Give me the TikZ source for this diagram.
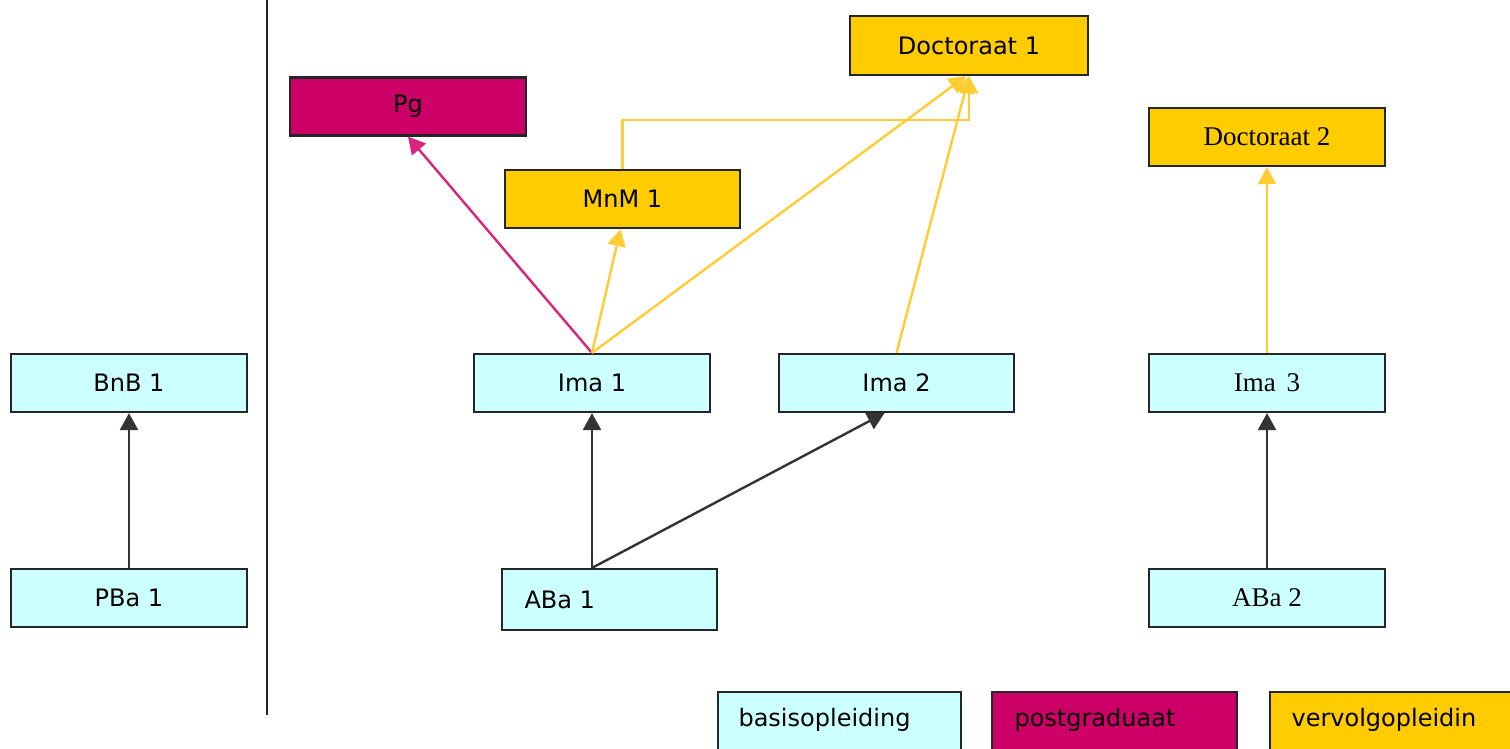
\documentclass[tikz,border=0pt]{standalone}
\usepackage{fontspec}
\setmainfont{DejaVu Sans}
\newfontfamily\serifbox{Liberation Serif}
\usetikzlibrary{arrows.meta}
\definecolor{basis}{HTML}{CCFFFF}
\definecolor{postg}{HTML}{CC0066}
\definecolor{vervolg}{HTML}{FFCC00}
\definecolor{edgeyellow}{HTML}{FFCC33}
\definecolor{edgemag}{HTML}{D8237F}
\definecolor{edgeblack}{HTML}{333333}
\tikzset{
  box/.style={draw=black!85, line width=2.2pt, rectangle, minimum width=236pt, minimum height=58pt, inner sep=0pt, font=\fontsize{24}{26}\selectfont},
  bas/.style={box, fill=basis},
  pgb/.style={box, fill=postg},
  vvb/.style={box, fill=vervolg},
  serif/.style={font=\serifbox\fontsize{27}{29}\selectfont},
  arr/.style={line width=2.4pt, -{Triangle[length=17pt,width=18pt]}},
  blk/.style={arr, draw=edgeblack},
  ylw/.style={arr, draw=edgeyellow},
  mag/.style={arr, draw=edgemag},
}
\begin{document}
\begin{tikzpicture}[x=1pt,y=-1pt]
\useasboundingbox (0,0) rectangle (1510,749);
\clip (0,0) rectangle (1510,749);
% divider
\draw[line width=2.2pt, black!85] (267,0) -- (267,715);
% nodes
\node[bas] (bnb1) at (129,383) {BnB 1};
\node[bas] (pba1) at (129,598) {PBa 1};
\node[pgb] (pg) at (408,106.5) {Pg};
\node[vvb, minimum width=235pt] (mnm1) at (622.5,199) {MnM 1};
\node[vvb, minimum width=238pt, minimum height=59pt] (doc1) at (969,45.5) {Doctoraat 1};
\node[vvb, serif] (doc2) at (1267,137) {Doctoraat 2};
\node[bas] (ima1) at (592,383) {Ima 1};
\node[bas, minimum width=235pt] (ima2) at (896.5,383) {Ima 2};
\node[bas, serif] (ima3) at (1267,383) {Ima\hspace{4pt} 3};
\node[bas, minimum width=215pt, minimum height=61pt] (aba1) at (609.5,599.5) {};
\node[anchor=west, font=\fontsize{24}{26}\selectfont] (aba1t) at (521,599.5) {ABa 1};
\node[bas, serif] (aba2) at (1267,598) {ABa 2};
% legend
\node[bas, minimum width=243pt, minimum height=70pt, anchor=north west] (lb) at (717,691) {};
\node[anchor=west, font=\fontsize{24}{26}\selectfont] (lbt) at (735,720) {basisopleiding};
\node[pgb, minimum width=245pt, minimum height=70pt, anchor=north west] (lp) at (991,691) {};
\node[anchor=west, font=\fontsize{24}{26}\selectfont] (lpt) at (1011,720) {postgraduaat};
\node[vvb, minimum width=250pt, minimum height=70pt, anchor=north west] (lv) at (1269,691) {};
\node[anchor=west, font=\fontsize{24}{26}\selectfont] (lvt) at (1288,720) {vervolgopleidin};
% edges
\draw[blk] (pba1.north) -- (bnb1.south);
\draw[blk] (ima1.south |- aba1.north) -- (ima1.south);
\draw[blk] (ima1.south |- aba1.north) -- ([xshift=-12pt]ima2.south);
\draw[blk] (aba2.north) -- (ima3.south);
\draw[mag] (ima1.north) -- (pg.south);
\draw[ylw] (ima1.north) -- ([xshift=-2pt]mnm1.south);
\draw[ylw] (ima1.north) -- ([xshift=-3pt]doc1.south);
\draw[ylw] (ima2.north) -- (doc1.south);
\draw[ylw] (mnm1.north) -- ++(0,-49) -| (doc1.south);
\draw[ylw] (ima3.north) -- (doc2.south);
\end{tikzpicture}
\end{document}
